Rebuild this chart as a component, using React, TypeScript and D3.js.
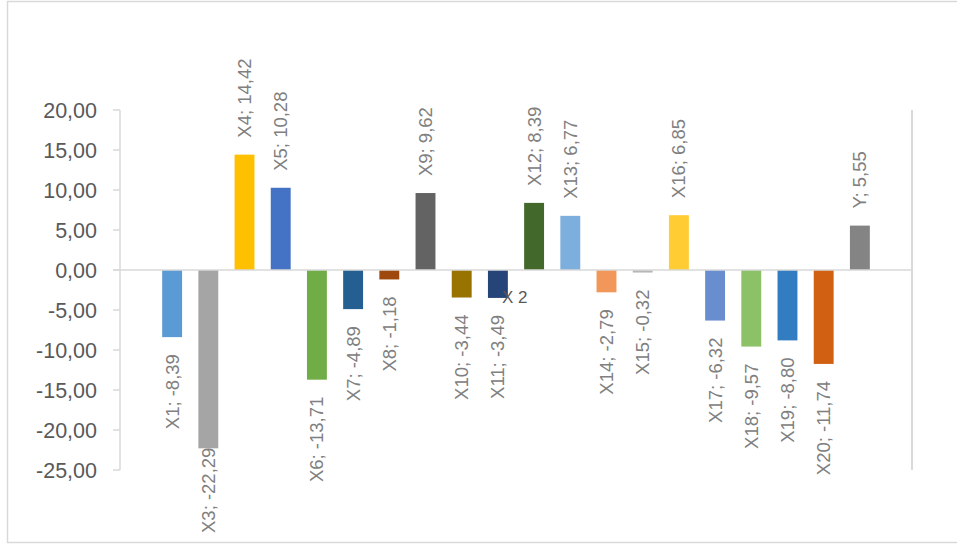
import React, { useEffect, useRef } from "react";
import * as d3 from "d3";

const seriesNames = ["X1","X3","X4","X5","X6","X7","X8","X9","X10","X11","X12","X13","X14","X15","X16","X17","X18","X19","X20","Y"];
const seriesValues = [-8.39,-22.29,14.42,10.28,-13.71,-4.89,-1.18,9.62,-3.44,-3.49,8.39,6.77,-2.79,-0.32,6.85,-6.32,-9.57,-8.80,-11.74,5.55];
const seriesColors = ["#5B9BD5","#A5A5A5","#FFC000","#4472C4","#70AD47","#255E91","#9E480E","#636363","#997300","#264478","#43682B","#7CAFDD","#F1975A","#B7B7B7","#FFCD33","#698ED0","#8CC168","#327DC2","#D26012","#848484"];
const yTicks = [20, 15, 10, 5, 0, -5, -10, -15, -20, -25];
const axisTitle = "X 2";

const fmt = (v: number) => v.toFixed(2).replace(".", ",");

export default function App() {
  const ref = useRef<SVGSVGElement | null>(null);
  useEffect(() => {
    const svg = d3.select(ref.current);
    svg.selectAll("*").remove();
    const left = 120, right = 912, top = 110, bottom = 470;

    svg.append("rect").attr("x", 7.5).attr("y", 1.5).attr("width", 960).attr("height", 541)
      .attr("fill", "#fff").attr("stroke", "#d9d9d9").attr("stroke-width", 1.5);

    const y = d3.scaleLinear().domain([-25, 20]).range([bottom, top]);
    const x = d3.scaleBand<string>().domain(seriesNames).range([left, right])
      .paddingInner(0.45).paddingOuter(1.165);

    svg.append("line").attr("x1", left).attr("x2", left).attr("y1", top).attr("y2", bottom)
      .attr("stroke", "#d9d9d9").attr("stroke-width", 1.5);
    svg.append("line").attr("x1", right).attr("x2", right).attr("y1", top).attr("y2", bottom)
      .attr("stroke", "#d9d9d9").attr("stroke-width", 2);

    const tg = svg.append("g");
    yTicks.forEach((t) => {
      tg.append("line").attr("x1", left - 7).attr("x2", left).attr("y1", y(t)).attr("y2", y(t))
        .attr("stroke", "#d9d9d9").attr("stroke-width", 1.5);
      tg.append("text").attr("x", 97).attr("y", y(t)).attr("dy", "0.36em")
        .attr("text-anchor", "end").attr("fill", "#595959")
        .attr("font-family", "'Liberation Sans', Arial, sans-serif").attr("font-size", 21.5)
        .text(fmt(t));
    });

    const bars = svg.append("g");
    seriesNames.forEach((n, i) => {
      const v = seriesValues[i];
      bars.append("rect").attr("x", x(n)!).attr("width", x.bandwidth())
        .attr("y", Math.min(y(v), y(0))).attr("height", Math.abs(y(v) - y(0)))
        .attr("fill", seriesColors[i]);
    });

    svg.append("line").attr("x1", left - 7).attr("x2", right).attr("y1", y(0)).attr("y2", y(0))
      .attr("stroke", "#d9d9d9").attr("stroke-width", 1.5);

    const lg = svg.append("g");
    seriesNames.forEach((n, i) => {
      const v = seriesValues[i];
      const cx = x(n)! + x.bandwidth() / 2;
      const t = lg.append("text")
        .attr("fill", "#808080")
        .attr("font-family", "'Liberation Sans', Arial, sans-serif").attr("font-size", 18.5)
        .attr("text-anchor", "start")
        .attr("dy", "0.35em")
        .text(`${n}; ${fmt(v)}`);
      const len = (t.node() as SVGTextElement).getComputedTextLength();
      const ys = v >= 0 ? y(v) - 17 : Math.min(y(v) + 17 + len, 533);
      t.attr("transform", `translate(${cx},${ys}) rotate(-90)`);
    });

    svg.append("text").attr("x", 502).attr("y", 303).attr("fill", "#595959")
      .attr("font-family", "'Liberation Sans', Arial, sans-serif").attr("font-size", 17)
      .text(axisTitle);
  }, []);
  return (
    <svg ref={ref} width={957} height={545}
      style={{ position: "absolute", left: 0, top: 0, background: "#fff" }} />
  );
}
